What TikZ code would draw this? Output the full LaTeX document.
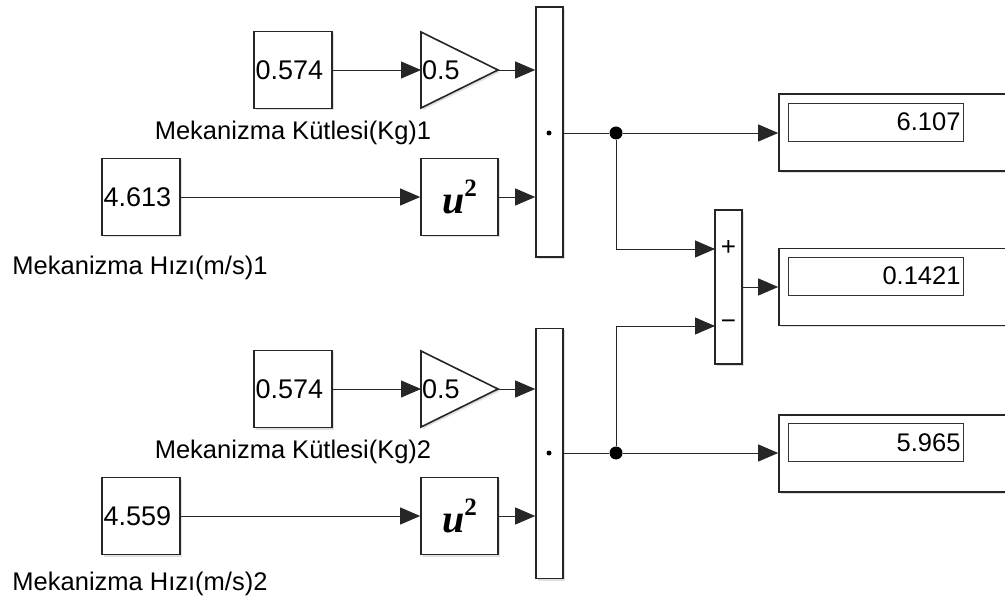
\documentclass[tikz,border=0pt]{standalone}
\usepackage{fontspec}
\setmainfont{Liberation Sans}
\newfontfamily\tms{Liberation Serif}
\usetikzlibrary{arrows.meta,shadows}
\newcommand{\usq}{{\tms\bfseries\itshape\fontsize{40}{40}\selectfont u}{\tms\bfseries\fontsize{25}{25}\selectfont\raisebox{17pt}{2}}}
\begin{document}
\begin{tikzpicture}[x=1pt,y=-1pt,
  every node/.style={font=\fontsize{25.5}{28}\selectfont},
  blk/.style={draw=black!85, line width=1.6pt, fill=white,
    drop shadow={opacity=0.25, shadow xshift=2pt, shadow yshift=-2pt}},
  constbox/.style={blk, minimum width=78pt, minimum height=77pt, text width=75pt, inner sep=1.5pt, align=left, font=\fontsize{27}{30}\selectfont},
  sqbox/.style={blk, minimum width=77pt, minimum height=77pt, inner sep=0pt},
  muxbox/.style={blk, minimum width=27pt, minimum height=250pt, inner sep=0pt},
  dispbox/.style={blk, minimum width=233pt, minimum height=77pt, inner sep=0pt},
  dispin/.style={draw=black!80, line width=0.9pt, minimum width=175pt, minimum height=38pt, text width=170pt, align=right, inner sep=2.5pt},
  wire/.style={line width=0.9pt, draw=black!85},
  arr/.style={wire, -{Triangle[length=20pt,width=17pt]}},
  jdot/.style={circle, fill=black, inner sep=0pt, minimum size=13pt},
  mdot/.style={circle, fill=black, inner sep=0pt, minimum size=5pt},
  lbl/.style={inner sep=0pt},
  gtxt/.style={anchor=west, inner sep=1pt, font=\fontsize{27}{30}\selectfont},
  sgn/.style={inner sep=0pt, font=\fontsize{26}{26}\selectfont},
]
\useasboundingbox (0,0) rectangle (1005,596);

% ---------- upper branch ----------
\node[constbox] (c1) at (293,70) {0.574};
\node[lbl] (l1) at (293,133) {Mekanizma Kütlesi(Kg)1};
\draw[blk] (421,32) -- (498,70) -- (421,108) -- cycle;
\coordinate (g1in) at (421,70);
\coordinate (g1out) at (498,70);
\node[gtxt] (g1t) at (g1in) {0.5};

\node[constbox] (c2) at (141,197) {4.613};
\node[lbl] (l2) at (140,268) {Mekanizma Hızı(m/s)1};
\node[sqbox] (s1) at (459.5,197) {\usq};

\node[muxbox] (m1) at (549.5,132) {};
\node[mdot] (md1) at (549,133) {};

\draw[arr] (c1.east) -- (g1in);
\draw[arr] (g1out) -- (m1.west |- g1out);
\draw[arr] (c2.east) -- (s1.west);
\draw[arr] (s1.east) -- (m1.west |- s1.east);

% ---------- lower branch ----------
\node[constbox] (c3) at (293,389) {0.574};
\node[lbl] (l3) at (293,452) {Mekanizma Kütlesi(Kg)2};
\draw[blk] (421,351) -- (498,389) -- (421,427) -- cycle;
\coordinate (g2in) at (421,389);
\coordinate (g2out) at (498,389);
\node[gtxt] (g2t) at (g2in) {0.5};

\node[constbox] (c4) at (141,516) {4.559};
\node[lbl] (l4) at (140,584) {Mekanizma Hızı(m/s)2};
\node[sqbox] (s2) at (459.5,516) {\usq};

\node[muxbox] (m2) at (549.5,453.5) {};
\node[mdot] (md2) at (549,453) {};

\draw[arr] (c3.east) -- (g2in);
\draw[arr] (g2out) -- (m2.west |- g2out);
\draw[arr] (c4.east) -- (s2.west);
\draw[arr] (s2.east) -- (m2.west |- s2.east);

% ---------- displays ----------
\node[dispbox] (d1) at (895.5,132.5) {};
\node[dispin] (d1v) at (875.5,122) {6.107};
\node[dispbox] (d2) at (895.5,287) {};
\node[dispin] (d2v) at (875.5,276) {0.1421};
\node[dispbox] (d3) at (895.5,453.5) {};
\node[dispin] (d3v) at (875.5,442.5) {5.965};

% ---------- sum ----------
\node[blk, minimum width=27pt, minimum height=154pt, inner sep=0pt] (sum) at (728.5,287) {};
\node[sgn] (sp) at (728.5,248) {+};
\node[sgn] (sm) at (728.5,325) {−};
\coordinate (sin1) at (715,249);
\coordinate (sin2) at (715,326);

% ---------- wiring ----------
\node[jdot] (j1) at (616,133) {};
\node[jdot] (j2) at (616,453) {};
\draw[wire] (m1.east |- j1) -- (j1);
\draw[arr] (j1) -- (d1.west |- j1);
\draw[arr] (j1) |- (sin1);
\draw[wire] (m2.east |- j2) -- (j2);
\draw[arr] (j2) -- (d3.west |- j2);
\draw[arr] (j2) |- (sin2);
\draw[arr] (sum.east) -- (d2.west |- sum.east);
\end{tikzpicture}
\end{document}
